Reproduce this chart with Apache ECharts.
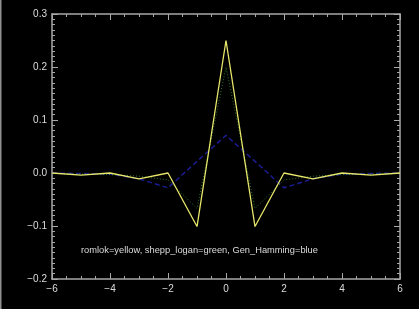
<!DOCTYPE html>
<html><head><meta charset="utf-8">
<script src="https://cdn.jsdelivr.net/npm/echarts@6/dist/echarts.min.js"></script>
<style>html,body{margin:0;padding:0;background:#000;}#c{width:419px;height:309px;}</style>
</head><body><div id="c"></div>
<script>
var xs = [-6,-5,-4,-3,-2,-1,0,1,2,3,4,5,6];
var romlok = [0,-0.004,0,-0.011,0,-0.101,0.25,-0.101,0,-0.011,0,-0.004,0];
var sheppLogan = [-0.001,-0.002,-0.003,-0.006,-0.013,-0.067,0.20,-0.067,-0.013,-0.006,-0.003,-0.002,-0.001];
var genHamming = [0,-0.001,-0.002,-0.011,-0.028,0.022,0.071,0.022,-0.028,-0.011,-0.002,-0.001,0];
var xTicks = [-6,-4,-2,0,2,4,6];
var yTicks = [-0.2,-0.1,0.0,0.1,0.2,0.3];
var note = 'romlok=yellow, shepp_logan=green, Gen_Hamming=blue';

function pairs(v){ return xs.map(function(x,i){ return [x, v[i]]; }); }
var axCol = '#a8a8a8', txtCol = '#dcdcdc';
function fmtY(v){ var s = Math.abs(v).toFixed(1); return (v < -1e-9 ? '\u2212' : '') + s; }
function fmtX(v){ return (v < 0 ? '\u2212' : '') + Math.abs(v); }
function xAx(pos, show){
  return {type:'value', position:pos, min:xTicks[0], max:xTicks[xTicks.length-1], interval:2,
    axisLine:{show:true, onZero:false, lineStyle:{color:axCol, width:1.5}},
    axisTick:{show:true, inside:true, length:6, lineStyle:{color:axCol, width:1}},
    minorTick:{show:true, splitNumber:4, length:3, lineStyle:{color:axCol, width:1}},
    axisLabel:{show:show, color:txtCol, fontSize:10, fontFamily:'Liberation Sans', margin:5, formatter:fmtX},
    splitLine:{show:false}};
}
function yAx(pos, show){
  return {type:'value', position:pos, min:yTicks[0], max:yTicks[yTicks.length-1], interval:0.1,
    axisLine:{show:true, onZero:false, lineStyle:{color:axCol, width:1.5}},
    axisTick:{show:true, inside:true, length:6, lineStyle:{color:axCol, width:1}},
    minorTick:{show:true, splitNumber:10, length:3, lineStyle:{color:axCol, width:1}},
    axisLabel:{show:show, color:txtCol, fontSize:10, fontFamily:'Liberation Sans', margin:5, formatter:fmtY},
    splitLine:{show:false}};
}
var chart = echarts.init(document.getElementById('c'), null, {renderer:'canvas'});
chart.setOption({
  backgroundColor:'#000',
  animation:false,
  grid:{left:52, top:14, right:19, bottom:30},
  xAxis:[xAx('bottom', true), xAx('top', false)],
  yAxis:[yAx('left', true), yAx('right', false)],
  series:[
    {type:'line', data:pairs(genHamming), showSymbol:false, lineStyle:{color:'#1c1c92', width:1.5, type:[5,3]}},
    {type:'line', data:pairs(sheppLogan), showSymbol:false, lineStyle:{color:'#2e7a2e', width:1, type:[1,2]}},
    {type:'line', data:pairs(romlok), showSymbol:false, lineStyle:{color:'#e6e66a', width:1.3}}
  ],
  graphic:[
    {type:'rect', left:0, top:0, shape:{x:0,y:0,width:1.5,height:309}, style:{fill:'#909090'}},
    {type:'text', left:81, top:246, style:{text:note, fill:txtCol, fontSize:9.3, fontFamily:'Liberation Sans'}}
  ]
});
</script></body></html>
